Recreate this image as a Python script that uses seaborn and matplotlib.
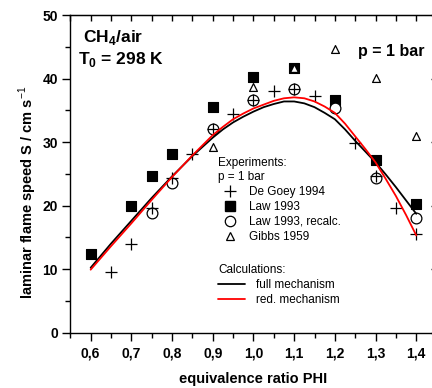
import matplotlib
matplotlib.use('Agg')
import matplotlib.pyplot as plt
import numpy as np
import pandas as pd
import seaborn as sns
from matplotlib.ticker import MultipleLocator, FuncFormatter
from matplotlib.lines import Line2D

# experiments, p = 1 bar
degoey_phi = [0.65, 0.7, 0.75, 0.8, 0.85, 0.9, 0.95, 1.0, 1.05, 1.1, 1.15, 1.25, 1.3, 1.35, 1.4]
degoey_s = [9.6, 14.0, 19.6, 24.3, 28.2, 32.1, 34.5, 36.7, 38.1, 38.4, 37.2, 29.9, 24.6, 19.6, 15.5]

law_phi = [0.6, 0.7, 0.75, 0.8, 0.9, 1.0, 1.1, 1.2, 1.3, 1.4]
law_s = [12.4, 20.0, 24.6, 28.2, 35.6, 40.2, 41.7, 36.6, 27.1, 20.2]

recalc_phi = [0.75, 0.8, 0.9, 1.0, 1.1, 1.2, 1.3, 1.4]
recalc_s = [18.9, 23.6, 32.1, 36.7, 38.4, 35.4, 24.4, 18.0]

gibbs_phi = [0.9, 1.0, 1.1, 1.2, 1.3, 1.4]
gibbs_s = [29.3, 38.6, 41.6, 44.7, 40.1, 30.9]

# calculations
calc_phi = [0.6, 0.65, 0.7, 0.75, 0.8, 0.85, 0.9, 0.925, 0.95, 0.975, 1.0, 1.025, 1.05, 1.075,
            1.1, 1.125, 1.15, 1.175, 1.2, 1.225, 1.25, 1.275, 1.3, 1.325, 1.35, 1.375, 1.4]
full_s = [10.2, 14.0, 17.6, 21.2, 24.6, 27.8, 30.7, 32.0, 33.1, 34.0, 34.8, 35.5, 36.0, 36.4,
          36.4, 36.1, 35.5, 34.6, 33.6, 32.0, 30.2, 28.5, 26.8, 24.9, 22.9, 20.8, 18.7]
red_s = [9.9, 13.6, 17.2, 20.9, 24.5, 27.9, 31.1, 32.4, 33.6, 34.5, 35.3, 35.9, 36.5, 36.9,
         37.05, 36.9, 36.4, 35.6, 34.6, 32.9, 30.9, 28.9, 26.8, 24.2, 21.5, 18.5, 15.3]

sns.set_style("ticks")
plt.rcParams['font.family'] = ['Liberation Sans', 'DejaVu Sans']
plt.rcParams['mathtext.fontset'] = 'custom'
plt.rcParams['mathtext.rm'] = 'Liberation Sans'
plt.rcParams['mathtext.bf'] = 'Liberation Sans:bold'
plt.rcParams['text.color'] = 'black'
plt.rcParams['axes.labelcolor'] = 'black'
plt.rcParams['xtick.color'] = 'black'
plt.rcParams['ytick.color'] = 'black'
plt.rcParams['axes.edgecolor'] = 'black'

fig = plt.figure(figsize=(4.32, 3.88), dpi=100)
ax = fig.add_axes([0.1627, 0.143, 0.848, 0.818])

sns.scatterplot(x=law_phi, y=law_s, marker='s', s=55, color='black', edgecolor='black', linewidth=0.8, ax=ax, zorder=3)
sns.scatterplot(x=recalc_phi, y=recalc_s, marker='o', s=60, facecolor='white', edgecolor='black', linewidth=0.9, ax=ax, zorder=4)
sns.scatterplot(x=gibbs_phi, y=gibbs_s, marker='^', s=32, facecolor='white', edgecolor='black', linewidth=0.9, ax=ax, zorder=5)
sns.scatterplot(x=degoey_phi, y=degoey_s, marker='+', s=70, color='black', linewidth=0.9, ax=ax, zorder=6)

sns.lineplot(x=calc_phi, y=full_s, color='black', linewidth=1.3, ax=ax, zorder=7)
sns.lineplot(x=calc_phi, y=red_s, color='#ff0000', linewidth=1.3, ax=ax, zorder=8)

ax.set_xlim(0.55, 1.45)
ax.set_ylim(0, 50)
ax.xaxis.set_major_locator(MultipleLocator(0.1))
ax.xaxis.set_minor_locator(MultipleLocator(0.05))
ax.yaxis.set_major_locator(MultipleLocator(10))
ax.yaxis.set_minor_locator(MultipleLocator(5))
ax.xaxis.set_major_formatter(FuncFormatter(lambda v, p: f"{v:.1f}".replace('.', ',') if v < 1.42 else ''))
ax.yaxis.set_major_formatter(FuncFormatter(lambda v, p: f"{v:.0f}"))

ax.tick_params(axis='x', which='both', direction='out', top=False, labelsize=10, pad=4)
ax.tick_params(axis='y', which='both', direction='out', right=False, labelsize=10, pad=3)
ax.tick_params(which='major', length=6, width=1, color='black')
ax.tick_params(which='minor', length=3.5, width=1, color='black')
for lab in ax.get_xticklabels() + ax.get_yticklabels():
    lab.set_fontweight('bold')

# inward ticks on top and right
sec_x = ax.secondary_xaxis('top')
sec_x.xaxis.set_major_locator(MultipleLocator(0.1))
sec_x.xaxis.set_minor_locator(MultipleLocator(0.05))
sec_x.tick_params(which='both', direction='in', length=4, width=1, labeltop=False)
sec_y = ax.secondary_yaxis('right')
sec_y.yaxis.set_major_locator(MultipleLocator(10))
sec_y.yaxis.set_minor_locator(MultipleLocator(5))
sec_y.tick_params(which='major', direction='in', length=4, width=1, labelright=False)
sec_y.tick_params(which='minor', direction='in', length=0, labelright=False)

for sp in ax.spines.values():
    sp.set_visible(True)
    sp.set_linewidth(1)
    sp.set_color('black')

ax.set_xlabel('equivalence ratio PHI', fontsize=10.5, fontweight='bold')
ax.set_ylabel(r'laminar flame speed S / cm s$^{-1}$', fontsize=10.5, fontweight='bold')
ax.xaxis.set_label_coords(0.5, -0.125)
ax.yaxis.set_label_coords(-0.085, 0.44)

ax.text(0.035, 0.93, r'CH$_\mathbf{4}$/air', transform=ax.transAxes, fontsize=12.5, fontweight='bold', va='center')
ax.text(0.02, 0.86, r'T$_\mathbf{0}$ = 298 K', transform=ax.transAxes, fontsize=12.5, fontweight='bold', va='center')
ax.text(0.785, 0.885, 'p = 1 bar', transform=ax.transAxes, fontsize=11.5, fontweight='bold', va='center')

exp_handles = [
    Line2D([], [], marker='+', linestyle='', color='black', markersize=8, markeredgewidth=0.9),
    Line2D([], [], marker='s', linestyle='', color='black', markersize=7),
    Line2D([], [], marker='o', linestyle='', markerfacecolor='white', markeredgecolor='black', markersize=7.5, markeredgewidth=0.9),
    Line2D([], [], marker='^', linestyle='', markerfacecolor='white', markeredgecolor='black', markersize=6, markeredgewidth=0.9),
]
exp_labels = ['De Goey 1994', 'Law 1993', 'Law 1993, recalc.', 'Gibbs 1959']
leg1 = ax.legend(exp_handles, exp_labels, title='Experiments:\np = 1 bar', title_fontsize=8.5,
                 fontsize=8.5, loc='upper left', bbox_to_anchor=(0.403, 0.552), frameon=False,
                 borderaxespad=0, borderpad=0, handlelength=2.0, handletextpad=0.6,
                 labelspacing=0.25, alignment='left')
ax.add_artist(leg1)

calc_handles = [Line2D([], [], color='black', linewidth=1.3), Line2D([], [], color='#ff0000', linewidth=1.3)]
ax.legend(calc_handles, ['full mechanism', 'red. mechanism'], title='Calculations:', title_fontsize=8.5,
          fontsize=8.5, loc='upper left', bbox_to_anchor=(0.403, 0.216), frameon=False,
          borderaxespad=0, borderpad=0, handlelength=2.3, handletextpad=0.9,
          labelspacing=0.25, alignment='left')

fig.savefig('out.png', dpi=100)
